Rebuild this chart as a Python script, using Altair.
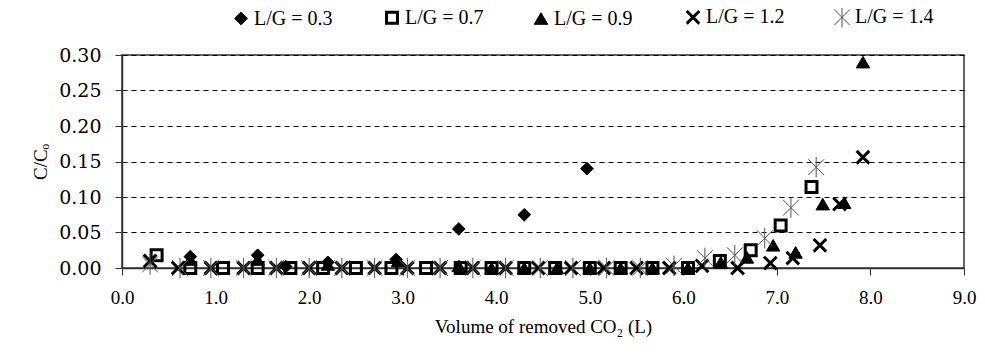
import altair as alt
import pandas as pd

labels = ["L/G = 0.3", "L/G = 0.7", "L/G = 0.9", "L/G = 1.2", "L/G = 1.4"]

x03 = [0.73, 1.45, 1.75, 2.2, 2.93, 3.6, 4.3, 4.97]
y03 = [0.016, 0.018, 0.002, 0.008, 0.012, 0.055, 0.075, 0.14]

x07 = [0.37, 0.73, 1.08, 1.45, 1.8, 2.15, 2.5, 2.88, 3.25, 3.62, 3.95, 4.3, 4.63, 5.0,
       5.33, 5.67, 6.05, 6.39, 6.72, 7.04, 7.37]
y07 = [0.018, 0, 0, 0, 0, 0, 0, 0, 0, 0, 0, 0, 0, 0, 0, 0, 0, 0.01, 0.025, 0.06, 0.114]

x09 = [0.73, 1.45, 2.2, 2.95, 3.6, 3.95, 4.3, 4.65, 5.0, 5.33, 5.67, 6.05, 6.4, 6.68,
       6.96, 7.2, 7.49, 7.72, 7.92]
y09 = [0.012, 0.012, 0.005, 0.01, 0.003, 0, 0, 0, 0, 0, 0, 0, 0.008, 0.015, 0.032, 0.022,
       0.09, 0.092, 0.29]

x12 = [0.3, 0.6, 0.95, 1.3, 1.65, 2.0, 2.35, 2.7, 3.05, 3.4, 3.75, 4.1, 4.45, 4.8, 5.15,
       5.5, 5.85, 6.2, 6.58, 6.93, 7.17, 7.46, 7.67, 7.92]
y12 = [0.01, 0, 0, 0, 0, 0, 0, 0, 0, 0, 0, 0, 0, 0, 0, 0, 0, 0.003, 0, 0.007, 0.014,
       0.032, 0.09, 0.156]

x14 = [0.3, 0.62, 0.95, 1.3, 1.65, 2.0, 2.35, 2.7, 3.05, 3.4, 3.75, 4.1, 4.47, 4.82,
       5.18, 5.54, 5.9, 6.23, 6.55, 6.87, 7.15, 7.42]
y14 = [0.005, 0, 0, 0, 0, 0, 0, 0, 0, 0, 0, 0, 0, 0, 0, 0, 0.003, 0.014, 0.018, 0.042,
       0.085, 0.142]

rows = []
for lab, xs, ys in zip(labels, [x03, x07, x09, x12, x14], [y03, y07, y09, y12, y14]):
    for a, b in zip(xs, ys):
        rows.append({"series": lab, "v": a, "c": b})
df = pd.DataFrame(rows)

xpath = "M-1,-1L1,1M1,-1L-1,1"
astpath = "M-1,-1L1,1M1,-1L-1,1M0,-1.3L0,1.3"

font = "Liberation Serif"
yfont = "DejaVu Serif"

chart = alt.Chart(df).mark_point(filled=True, opacity=1).encode(
    x=alt.X("v:Q", scale=alt.Scale(domain=[0, 9], nice=False),
            axis=alt.Axis(values=list(range(10)), format=".1f", labelFlush=False,
                          labelFont=font, labelFontSize=19,
                          title="Volume of removed CO₂ (L)", grid=False)),
    y=alt.Y("c:Q", scale=alt.Scale(domain=[0, 0.3], nice=False),
            axis=alt.Axis(values=[0, 0.05, 0.1, 0.15, 0.2, 0.25, 0.3], format=".2f",
                          labelFont=yfont, labelFontSize=19, labelFlush=False,
                          title="C/Cₒ", grid=True)),
    shape=alt.Shape("series:N", scale=alt.Scale(domain=labels,
                    range=["diamond", "square", "triangle-up", xpath, astpath]),
                    legend=alt.Legend(title=None, orient="none", legendX=109, legendY=-48,
                                      direction="horizontal", columns=5, columnPadding=47,
                                      labelFont=font, labelFontSize=20, labelColor="black",
                                      labelLimit=300, symbolOffset=0, labelOffset=3)),
    fill=alt.Fill("series:N", scale=alt.Scale(domain=labels,
                  range=["black", "transparent", "black", "transparent", "transparent"])),
    stroke=alt.Stroke("series:N", scale=alt.Scale(domain=labels,
                      range=["black", "black", "black", "black", "#555555"])),
    strokeWidth=alt.StrokeWidth("series:N", scale=alt.Scale(type="ordinal", domain=labels,
                                range=[1, 3, 1, 3, 1])),
    size=alt.Size("series:N", scale=alt.Scale(type="ordinal", domain=labels,
                  range=[160, 120, 180, 160, 250])),
).properties(
    width=842, height=213,
    autosize=alt.AutoSizeParams(type="none"),
    padding={"left": 114, "top": 47, "right": 13, "bottom": 74},
).configure_view(
    stroke="#333333", strokeWidth=1.5
).configure_axis(
    titleFont=font, titleFontSize=19,
    labelColor="black", titleColor="black", titleFontWeight="normal",
    domainColor="#333333", domainWidth=1.5, tickColor="#333333", tickSize=7,
    gridColor="black", gridDash=[5, 4], gridWidth=1,
).configure_axisX(
    labelPadding=13, titlePadding=10
).configure_axisY(
    labelPadding=14, titlePadding=8
)

chart.save("out.html", embed_options={"renderer": "svg", "actions": False})
